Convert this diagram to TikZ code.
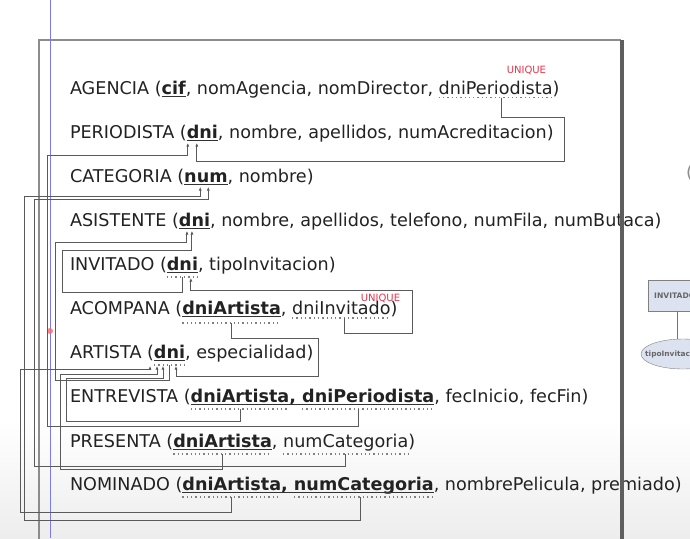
\documentclass[tikz,border=0pt]{standalone}
\usepackage{fontspec}
\setmainfont{DejaVu Sans}
\usetikzlibrary{arrows.meta,calc,shapes.geometric}
\definecolor{txtc}{HTML}{222222}
\definecolor{linec}{HTML}{5A5A5A}
\definecolor{uniq}{HTML}{E8324A}
\definecolor{bluel}{HTML}{7B7BF0}
\definecolor{framec}{HTML}{8C8C8C}
\definecolor{framer}{HTML}{5E5E5E}
\definecolor{erfill}{HTML}{DCE2EF}
\newcommand\pkul[1]{\draw[pk] ($(#1.base west)+(0,2.5)$) -- ($(#1.base east)+(0,2.5)$);}
\newcommand\fkul[2]{\draw[fkd] ($(#1.base west)+(0,#2)$) -- ($(#1.base east)+(0,#2)$);}
\begin{document}
\begin{tikzpicture}[x=1pt,y=-1pt,
  txt/.style={anchor=base west,inner sep=0pt,outer sep=0pt,font=\fontsize{17.6}{20}\selectfont,text=txtc},
  pk/.style={draw=black!80,line width=1.5pt},
  fkd/.style={draw=black!50,line width=1.3pt,dash pattern=on 1.3pt off 3pt},
  fk/.style={draw=linec,line width=0.9pt,-{Latex[length=3.5pt,width=3pt]}},
  uq/.style={anchor=base west,inner sep=0pt,font=\fontsize{10}{12}\selectfont,text=uniq}]
\useasboundingbox (0,0) rectangle (690,538);
\clip (0,0) rectangle (690,538);
\shade[top color=white,bottom color=black!7] (0,420) rectangle (690,538);
\draw[framec,line width=1.5pt] (39,560) -- (39,40) -- (621,40);
\draw[bluel,line width=1pt] (50,0) -- (50,538);
\fill[red!60,opacity=0.8] (50,331) circle (3);

% AGENCIA
\node[txt] (ag0) at (70,94) {AGENCIA (};
\node[txt] (ag-cif) at (ag0.base east) {\bfseries cif};
\node[txt] (ag1) at (ag-cif.base east) {,~nomAgencia,~nomDirector,~\null};
\node[txt] (ag-dp) at (ag1.base east) {dniPeriodista};
\node[txt] (ag2) at (ag-dp.base east) {)};
\node[uq] (ag-u) at ($(ag-dp.base east)+(-46,-21)$) {UNIQUE};
% PERIODISTA
\node[txt] (pe0) at (70,138) {PERIODISTA (};
\node[txt] (pe-dni) at (pe0.base east) {\bfseries dni};
\node[txt] (pe1) at (pe-dni.base east) {,~nombre, apellidos, numAcreditacion)};
% CATEGORIA
\node[txt] (ca0) at (70,182) {CATEGORIA (};
\node[txt] (ca-num) at (ca0.base east) {\bfseries num};
\node[txt] (ca1) at (ca-num.base east) {,~nombre)};
% ASISTENTE
\node[txt] (as0) at (70,226) {ASISTENTE (};
\node[txt] (as-dni) at (as0.base east) {\bfseries dni};
\node[txt] (as1) at (as-dni.base east) {,~nombre, apellidos, telefono, numFila, numButaca)};
% INVITADO
\node[txt] (in0) at (70,270) {INVITADO (};
\node[txt] (in-dni) at (in0.base east) {\bfseries dni};
\node[txt] (in1) at (in-dni.base east) {,~tipoInvitacion)};
% ACOMPANA
\node[txt] (ac0) at (70,314) {ACOMPANA (};
\node[txt] (ac-da) at (ac0.base east) {\bfseries dniArtista};
\node[txt] (ac1) at (ac-da.base east) {,~\null};
\node[txt] (ac-di) at (ac1.base east) {dniInvitado};
\node[txt] (ac2) at (ac-di.base east) {)};
\node[uq] (ac-u) at ($(ac-di.base east)+(-30,-13)$) {UNIQUE};
% ARTISTA
\node[txt] (ar0) at (70,358) {ARTISTA (};
\node[txt] (ar-dni) at (ar0.base east) {\bfseries dni};
\node[txt] (ar1) at (ar-dni.base east) {,~especialidad)};
% ENTREVISTA
\node[txt] (en0) at (70,402) {ENTREVISTA (};
\node[txt] (en-da) at (en0.base east) {\bfseries dniArtista};
\node[txt] (en1) at (en-da.base east) {\bfseries ,~\null};
\node[txt] (en-dp) at (en1.base east) {\bfseries dniPeriodista};
\node[txt] (en2) at (en-dp.base east) {,~fecInicio, fecFin)};
% PRESENTA
\node[txt] (pr0) at (70,447) {PRESENTA (};
\node[txt] (pr-da) at (pr0.base east) {\bfseries dniArtista};
\node[txt] (pr1) at (pr-da.base east) {,~\null};
\node[txt] (pr-nc) at (pr1.base east) {numCategoria};
\node[txt] (pr2) at (pr-nc.base east) {)};
% NOMINADO
\node[txt] (no0) at (70,490) {NOMINADO (};
\node[txt] (no-da) at (no0.base east) {\bfseries dniArtista};
\node[txt] (no1) at (no-da.base east) {\bfseries ,~\null};
\node[txt] (no-nc) at (no1.base east) {\bfseries numCategoria};
\node[txt] (no2) at (no-nc.base east) {,~nombrePelicula, premiado)};

% primary key underlines
\pkul{ag-cif}\pkul{pe-dni}\pkul{ca-num}\pkul{as-dni}\pkul{in-dni}
\pkul{ac-da}\pkul{ar-dni}\pkul{pr-da}
\draw[pk] ($(en-da.base west)+(0,2.5)$) -- ($(en-dp.base east)+(0,2.5)$);
\draw[pk] ($(no-da.base west)+(0,2.5)$) -- ($(no-nc.base east)+(0,2.5)$);
% foreign key dotted underlines
\fkul{ag-dp}{3.5}\fkul{in-dni}{7}\fkul{ac-da}{9}\fkul{ac-di}{4}\fkul{ar-dni}{7}
\fkul{en-da}{7}\fkul{en-dp}{7}\fkul{pr-da}{7}\fkul{pr-nc}{7}\fkul{no-da}{7}\fkul{no-nc}{7}

% connectors
\draw[fk] ($(ag-dp.base)+(6,3.5)$) -- ++(0,20) -| (564,161) -| ($(pe-dni.base west)+(10,5)$);
\draw[fk] ($(en-dp.base)+(-10,7)$) -- ++(0,17) -| (47,155) -| ($(pe-dni.base west)+(1,5)$);
\draw[fk] ($(no-nc.base)+(-3,7)$) -- ++(0,23) -| (24,196) -| ($(ca-num.base west)+(16,5)$);
\draw[fk] ($(pr-nc.base)+(0,7)$) -- ++(0,12) -| (34,199) -| ($(ca-num.base west)+(24,5)$);
\draw[fk] ($(ar-dni.base)+(0,7)$) -- ++(0,15) -| (55,242) -| ($(as-dni.base west)+(8,5)$);
\draw[fk] ($(in-dni.base)+(0,7)$) -- ++(0,15) -| (62,250) -| ($(as-dni.base west)+(13,5)$);
\draw[fk] ($(ac-di.base)+(3,4)$) -- ++(0,15) -| (412,290) -| ($(in-dni.base west)+(24,8)$);
\draw[fk] ($(ac-da.base)+(0,9)$) -- ++(0,15) -| (318,376) -| ($(ar-dni.base west)+(22,8)$);
\draw[fk] ($(en-da.base)+(0,7)$) -- ++(0,12) -| (66,378) -| ($(ar-dni.base west)+(9,8)$);
\draw[fk] ($(pr-da.base)+(0,7)$) -- ++(0,15) -| (60,374) -| ($(ar-dni.base west)+(3,8)$);
\draw[fk] ($(no-da.base)+(0,7)$) -- ++(0,15) -| (20,369) -| ($(ar-dni.base west)+(-4,8)$);

% right frame edge
\draw[framer,line width=4pt] (622,40) -- (622,560);

% partial ER diagram at right
\node[txt,text=black!45] (par) at (686,178) {(};
\node[draw=black!50,fill=erfill,anchor=north west,minimum height=31pt,text width=70pt,align=left,inner xsep=6pt,inner ysep=0pt,font=\fontsize{7.6}{8}\selectfont\bfseries,text=black!60] (erinv) at (648,280) {INVITADO};
\node[ellipse,draw=black!50,fill=erfill,minimum width=84pt,minimum height=30pt,inner sep=0pt] (erell) at (683,354) {};
\node[anchor=west,inner sep=0pt,font=\fontsize{7.4}{8}\selectfont\bfseries,text=black!60] (erelt) at (645,354) {tipoInvitacion};
\draw[black!55,line width=0.8pt] (erinv.south -| 677,0) -- (erell.north -| 677,0);
\end{tikzpicture}
\end{document}
